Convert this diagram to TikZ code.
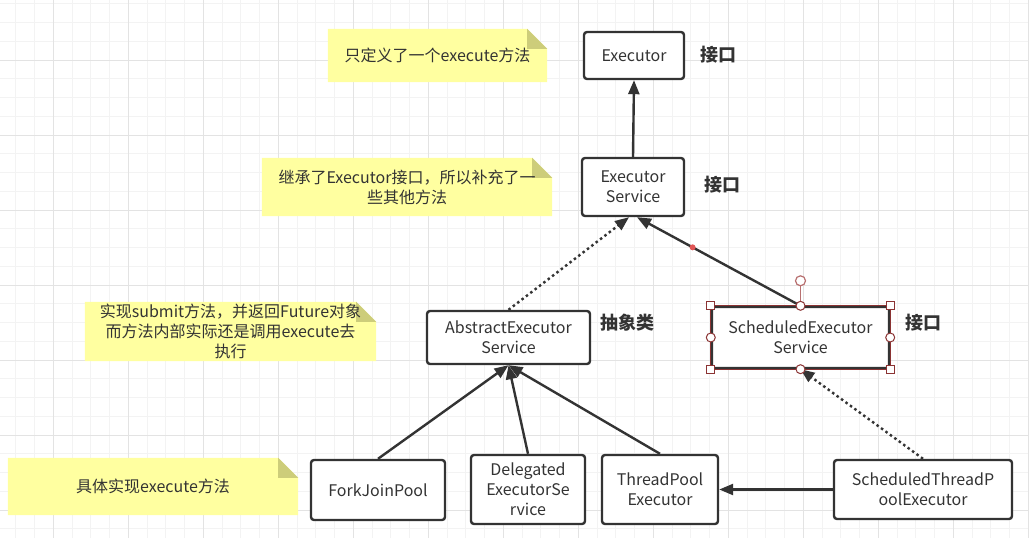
\documentclass[tikz,border=0pt]{standalone}
\usepackage{fontspec}
\setmainfont{Noto Sans CJK SC}
\usetikzlibrary{arrows.meta,backgrounds}
\definecolor{ink}{HTML}{333333}
\definecolor{gridfine}{HTML}{F3F3F3}
\definecolor{gridbold}{HTML}{E3E3E3}
\definecolor{noteyellow}{HTML}{FFFFA0}
\definecolor{notefold}{HTML}{CDCD7A}
\definecolor{selred}{HTML}{8B3333}
\definecolor{rotred}{HTML}{B87070}
\definecolor{dotred}{HTML}{E05555}
\tikzset{
  box/.style={draw=ink, line width=2.4pt, rounded corners=3pt, fill=white, align=center, inner sep=2pt},
  memo/.style={align=center, inner sep=0pt},
  tag/.style={font=\fontsize{18}{22}\selectfont\bfseries},
  arr/.style={draw=ink, line width=2.4pt, -{Triangle[length=14pt,width=11pt]}},
  dotarr/.style={arr, dash pattern=on 2.5pt off 3pt},
  selline/.style={draw=selred, line width=1pt},
  handle/.style={draw=selred, fill=white, line width=1pt},
}
\begin{document}
\begin{tikzpicture}[x=1pt,y=-1pt,font=\fontsize{16}{20}\selectfont,text=ink]
\useasboundingbox (0,0) rectangle (1029,538);
\begin{scope}[on background layer]
\fill[white] (0,0) rectangle (1029,538);
\foreach \i in {0,...,54} \draw[gridfine,line width=1pt] ({15.8+18.75*\i},0) -- ++(0,538);
\foreach \j in {0,...,28} \draw[gridfine,line width=1pt] (0,{3.75+18.75*\j}) -- ++(1029,0);
\foreach \i in {0,...,13} \draw[gridbold,line width=1pt] ({53.3+75*\i},0) -- ++(0,538);
\foreach \j in {0,...,6} \draw[gridbold,line width=1pt] (0,{60+75*\j}) -- ++(1029,0);
\end{scope}

\node[box, minimum width=100pt, minimum height=47pt] (exec) at (634,55.5) {Executor};
\node[box, minimum width=102pt, minimum height=58pt] (execsvc) at (633,187) {Executor\\Service};
\node[box, minimum width=163pt, minimum height=53pt] (abstract) at (508.5,337.5) {AbstractExecutor\\Service};
\node[box, minimum width=177pt, minimum height=61pt] (sched) at (800.5,337.5) {ScheduledExecutor\\Service};
\node[box, minimum width=134pt, minimum height=60pt] (forkjoin) at (378,490) {ForkJoinPool};
\node[box, minimum width=114pt, minimum height=69pt] (delegated) at (528,489.5) {Delegated\\ExecutorSe\\rvice};
\node[box, minimum width=116pt, minimum height=69pt] (threadpool) at (660,489.5) {ThreadPool\\Executor};
\node[box, minimum width=178pt, minimum height=59pt] (schedtp) at (923,489.5) {ScheduledThreadP\\oolExecutor};

\node[tag] (tagexec) at (718,55) {接口};
\node[tag] (tagsvc) at (722,185) {接口};
\node[tag] (tagabs) at (627,323) {抽象类};
\node[tag] (tagsched) at (923,323) {接口};

\node[memo, minimum width=219pt, minimum height=53pt] (noteA) at (437.5,55.5) {只定义了一个execute方法};
\node[memo, minimum width=290pt, minimum height=58pt] (noteB) at (407,187) {继承了Executor接口，所以补充了一\\些其他方法};
\node[memo, minimum width=291pt, minimum height=59pt] (noteC) at (230.5,331.5) {实现submit方法，并返回Future对象\\而方法内部实际还是调用execute去\\执行};
\node[memo, minimum width=290pt, minimum height=57pt] (noteD) at (153,486.5) {具体实现execute方法};
\begin{scope}[on background layer]
\foreach \n in {noteA,noteB,noteC,noteD} {
  \fill[noteyellow] (\n.south west) |- ([xshift=-20pt]\n.north east) -- ([yshift=-20pt]\n.north east) |- cycle;
  \fill[notefold] ([xshift=-20pt]\n.north east) |- ([yshift=-20pt]\n.north east) -- cycle;
}
\end{scope}

\draw[arr] (execsvc.north) -- (exec.south);
\draw[dotarr] (abstract.north) -- ([xshift=-4pt]execsvc.south);
\draw[arr] (sched.north) -- coordinate[pos=0.66] (wayp) ([xshift=4pt]execsvc.south);
\fill[dotred] (wayp) circle (3);
\draw[arr] (forkjoin.north) -- (abstract.south);
\draw[arr] (delegated.north) -- (abstract.south);
\draw[arr] (threadpool.north) -- (abstract.south);
\draw[arr] (schedtp.west) -- (threadpool.east);
\draw[dotarr] (schedtp.north) -- (sched.south);

\draw[selline] (sched.north west) rectangle (sched.south east);
\draw[rotred, line width=1.2pt] (sched.north) -- ++(0,-20) coordinate (rot);
\draw[rotred, fill=white, line width=1.2pt] ([yshift=5pt]rot) circle (5);
\foreach \a in {north west,north east,south west,south east}
  \draw[handle] ([shift={(-4pt,-4pt)}]sched.\a) rectangle ([shift={(4pt,4pt)}]sched.\a);
\foreach \a in {north,south,east,west}
  \draw[handle] (sched.\a) circle (4.5);
\end{tikzpicture}
\end{document}
